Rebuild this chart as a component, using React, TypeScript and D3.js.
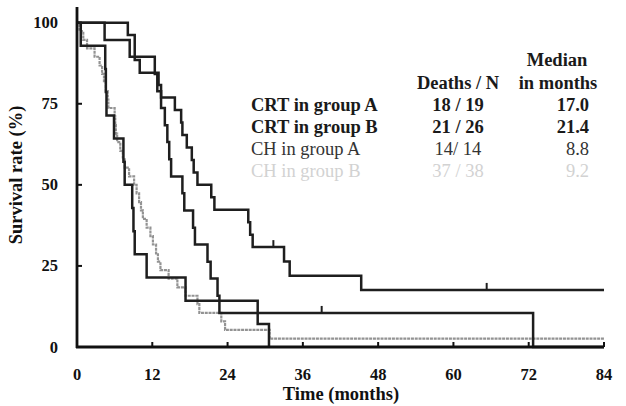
import React from 'react';
import * as d3 from 'd3';

// tick labels
const xTicks = [0, 12, 24, 36, 48, 60, 72, 84];
const yTicks = [0, 25, 50, 75, 100];

// CRT in group A (18/19)
const crtATimes = [0, 4.4, 8.4, 12.4, 12.8, 13.4, 14.0, 14.4, 14.7, 15.0, 16.8, 17.1, 18.5, 18.8, 20.8, 21.3, 22.4, 22.7, 72.7];
const crtASurv = [100, 94.7, 89.5, 84.2, 78.9, 73.7, 68.4, 63.2, 57.9, 52.6, 47.4, 42.1, 36.8, 31.6, 26.3, 21.1, 15.8, 10.5, 0];
const crtACensor = [39];

// CRT in group B (21/26)
const crtBTimes = [0, 8.1, 9.2, 10.0, 13.0, 13.4, 15.6, 16.6, 16.8, 17.5, 18.3, 18.6, 19.2, 21.4, 21.9, 27.3, 27.6, 28.0, 33.0, 33.9, 45.3];
const crtBSurv = [100, 96.2, 88.5, 84.6, 80.8, 76.9, 73.1, 69.2, 65.4, 61.5, 57.7, 53.8, 50.0, 46.2, 42.3, 38.5, 34.6, 30.8, 26.4, 22.0, 17.6];
const crtBCensor = [31.3, 65.3];

// CH in group A (14/14)
const chATimes = [0, 0.6, 4.5, 4.6, 4.7, 5.9, 7.4, 7.6, 8.8, 9.0, 9.2, 11.1, 17.3, 28.8, 30.6];
const chASurv = [100, 92.9, 85.7, 78.6, 71.4, 64.3, 57.1, 50.0, 42.9, 35.7, 28.6, 21.4, 14.3, 7.1, 0];

// CH in group B (gray)
const chBTimes = [0, 0.4, 1.0, 1.6, 2.8, 3.6, 4.0, 4.3, 4.6, 4.9, 5.0, 6.0, 6.1, 6.2, 6.4, 6.9, 7.3, 7.6, 8.3, 9.1, 9.5, 9.9, 10.2, 10.5, 11.1, 11.7, 12.1, 12.6, 12.9, 13.3, 14.6, 16.0, 17.3, 19.2, 19.5, 23.0, 23.6, 30.7];
const chBSurv = [100, 97.4, 94.7, 92.1, 89.5, 86.8, 84.2, 81.6, 78.9, 76.3, 73.7, 71.1, 68.4, 65.8, 63.2, 60.5, 57.9, 55.3, 52.6, 50.0, 47.4, 44.7, 42.1, 39.5, 36.8, 34.2, 31.6, 28.9, 26.3, 23.7, 21.1, 18.4, 15.8, 13.2, 10.5, 7.9, 5.3, 2.6];

// legend table
const groupNames = ['CRT in group A', 'CRT in group B', 'CH in group A', 'CH in group B'];
const deathsN = ['18 / 19', '21 / 26', '14/ 14', '37 / 38'];
const medians = ['17.0', '21.4', '8.8', '9.2'];

const font = '"Liberation Serif", "Times New Roman", serif';

export default function App() {
    const width = 626;
    const height = 406;

    const x = d3.scaleLinear().domain([0, 84]).range([77, 604]);
    const y = d3.scaleLinear().domain([0, 100]).range([347, 22.7]);

    const line = d3.line<[number, number]>()
        .x((d) => x(d[0]))
        .y((d) => y(d[1]))
        .curve(d3.curveStepAfter);

    const makePath = (times: number[], surv: number[], end: number) => {
        const pts: [number, number][] = times.map((t, i) => [t, surv[i]]);
        const last = times[times.length - 1];
        if (end > last) pts.push([end, surv[surv.length - 1]]);
        return line(pts) || '';
    };

    // value of a step curve at time t
    const survAt = (times: number[], surv: number[], t: number) => {
        const i = d3.bisectRight(times, t) - 1;
        return surv[Math.max(0, i)];
    };

    const curves = [
        {d: makePath(chBTimes, chBSurv, 84), color: '#939393', w: 2.2, dash: '3 0.8'},
        {d: makePath(chATimes, chASurv, 30.6), color: '#1e1e1e', w: 2.5, dash: undefined},
        {d: makePath(crtATimes, crtASurv, 84), color: '#1e1e1e', w: 2.5, dash: undefined},
        {d: makePath(crtBTimes, crtBSurv, 84), color: '#1e1e1e', w: 2.5, dash: undefined},
    ];

    const censors = [
        ...crtACensor.map((t) => [t, survAt(crtATimes, crtASurv, t)]),
        ...crtBCensor.map((t) => [t, survAt(crtBTimes, crtBSurv, t)]),
    ];

    const rowY = [111, 133, 155, 177];
    const rowFill = ['#1a1a1a', '#1a1a1a', '#333', '#d2d2d2'];
    const rowWeight = ['bold', 'bold', 'normal', 'normal'];

    return (
        <svg width={width} height={height}
             style={{position: 'absolute', left: 0, top: 0, background: '#fff'}}
             fontFamily={font}>
            {/* curves */}
            {curves.map((c, i) => (
                <path key={i} d={c.d} fill="none" stroke={c.color} strokeWidth={c.w}
                      strokeDasharray={c.dash}/>
            ))}
            {censors.map((c, i) => (
                <line key={i} x1={x(c[0])} x2={x(c[0])} y1={y(c[1])} y2={y(c[1]) - 7}
                      stroke="#1e1e1e" strokeWidth={2}/>
            ))}

            {/* axes */}
            <line x1={x(0)} x2={x(0)} y1={7} y2={y(0) + 1} stroke="#111" strokeWidth={2.8}/>
            <line x1={x(0) - 1} x2={x(84)} y1={y(0)} y2={y(0)} stroke="#111" strokeWidth={2.8}/>
            {yTicks.map((t) => (
                <g key={t}>
                    {t > 0 && t < 100 &&
                        <line x1={x(0)} x2={x(0) + 5} y1={y(t)} y2={y(t)} stroke="#111" strokeWidth={2}/>}
                    <text x={58} y={y(t) + 5.5} textAnchor="end" fontSize={16.5} fontWeight="bold"
                          fill="#111">{t}</text>
                </g>
            ))}
            {xTicks.map((t) => (
                <g key={t}>
                    {t > 0 &&
                        <line x1={x(t)} x2={x(t)} y1={y(0)} y2={y(0) - 5} stroke="#111" strokeWidth={2}/>}
                    <text x={x(t)} y={380} textAnchor="middle" fontSize={16.5} fontWeight="bold"
                          fill="#111">{t}</text>
                </g>
            ))}
            <text x={341} y={400} textAnchor="middle" fontSize={18.5} fontWeight="bold" fill="#111">
                Time (months)
            </text>
            <text transform="translate(22,175) rotate(-90)" textAnchor="middle" fontSize={18.5}
                  fontWeight="bold" fill="#111">
                Survival rate (%)
            </text>

            {/* legend table */}
            <text x={557} y={66} textAnchor="middle" fontSize={18.5} fontWeight="bold" fill="#1a1a1a">Median</text>
            <text x={558} y={89} textAnchor="middle" fontSize={18.5} fontWeight="bold" fill="#1a1a1a">in months</text>
            <text x={458} y={89} textAnchor="middle" fontSize={18.5} fontWeight="bold" fill="#1a1a1a">Deaths / N</text>
            {groupNames.map((g, i) => (
                <g key={g} fill={rowFill[i]} fontWeight={rowWeight[i]} fontSize={18.5}>
                    <text x={251} y={rowY[i]}>{g}</text>
                    <text x={458} y={rowY[i]} textAnchor="middle">{deathsN[i]}</text>
                    <text x={589} y={rowY[i]} textAnchor="end">{medians[i]}</text>
                </g>
            ))}
        </svg>
    );
}
